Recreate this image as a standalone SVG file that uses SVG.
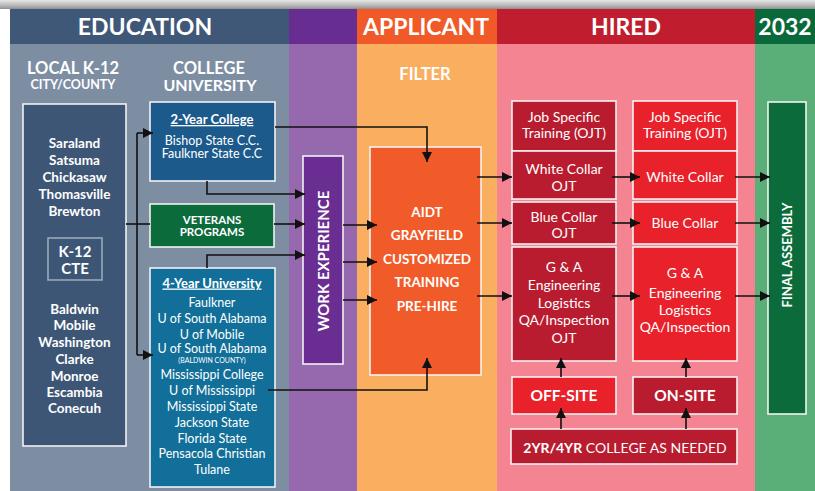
<svg xmlns="http://www.w3.org/2000/svg" width="815" height="491" viewBox="0 0 815 491">
<defs>
<linearGradient id="topg" x1="0" y1="0" x2="0" y2="1">
<stop offset="0" stop-color="#e6e6e6"/>
<stop offset="0.6" stop-color="#b8b8b8"/>
<stop offset="1" stop-color="#8e8e8e"/>
</linearGradient>
<marker id="ah" markerUnits="userSpaceOnUse" markerWidth="10" markerHeight="10" refX="10" refY="5" orient="auto" viewBox="0 0 10 10">
<path d="M0,0 L10,5 L0,10 Z" fill="#111"/>
</marker>
</defs>
<style>
text{font-family:Lato,"Liberation Sans",Arial,sans-serif;fill:#fff;text-anchor:middle}
.hd{font-size:23px;font-weight:700}
.sh{font-size:16.5px;font-weight:700}
.bx{stroke:#f2f2f2;stroke-width:1.6}
.k{font-size:13.5px;font-weight:700}
.c{font-size:12.5px}
.cu{font-size:13px;font-weight:700;text-decoration:underline}
.h{font-size:14px}
.o{font-size:13.5px;font-weight:700}
.lbl{font-size:15.5px;font-weight:700}
.con{fill:none;stroke:#111;stroke-width:1.6;marker-end:url(#ah)}
.ln{fill:none;stroke:#111;stroke-width:1.6}
</style>
<rect x="0" y="0" width="815" height="491" fill="#ffffff"/>
<rect x="0" y="0" width="815" height="9" fill="url(#topg)"/>
<g id="columns">
<rect x="10" y="44" width="279" height="447" fill="#7d8ea3"/>
<rect x="289" y="44" width="68" height="447" fill="#9669af"/>
<rect x="357" y="44" width="140" height="447" fill="#f9ae60"/>
<rect x="497" y="44" width="258" height="447" fill="#f48492"/>
<rect x="755" y="44" width="60" height="447" fill="#5aaf78"/>
<rect x="10" y="9" width="279" height="35" fill="#405878"/>
<rect x="289" y="9" width="68" height="35" fill="#682d91"/>
<rect x="357" y="9" width="140" height="35" fill="#f05a28"/>
<rect x="497" y="9" width="258" height="35" fill="#c01e2e"/>
<rect x="755" y="9" width="60" height="35" fill="#0a693a"/>
<text class="hd" x="145" y="35">EDUCATION</text>
<text class="hd" x="426" y="35">APPLICANT</text>
<text class="hd" x="626" y="35">HIRED</text>
<text class="hd" x="785" y="35">2032</text>
<text class="sh" x="73" y="74">LOCAL K-12</text>
<text x="73" y="88.5" style="font-size:12.5px;font-weight:700">CITY/COUNTY</text>
<text class="sh" x="209" y="73.5">COLLEGE</text>
<text class="sh" x="210" y="91" style="font-size:16px">UNIVERSITY</text>
<text class="sh" x="425" y="80">FILTER</text>
</g>
<g id="k12">
<rect class="bx" x="23" y="104" width="103" height="342" fill="#3e5676"/>
<text class="k" x="74.5" y="148">Saraland</text>
<text class="k" x="74.5" y="165">Satsuma</text>
<text class="k" x="74.5" y="182">Chickasaw</text>
<text class="k" x="74.5" y="199">Thomasville</text>
<text class="k" x="74.5" y="216">Brewton</text>
<text class="k" x="74.5" y="314">Baldwin</text>
<text class="k" x="74.5" y="330">Mobile</text>
<text class="k" x="74.5" y="347">Washington</text>
<text class="k" x="74.5" y="364">Clarke</text>
<text class="k" x="74.5" y="381">Monroe</text>
<text class="k" x="74.5" y="397">Escambia</text>
<text class="k" x="74.5" y="413">Conecuh</text>
</g>
<g id="k12cte">
<rect x="48" y="238" width="54" height="42" fill="#3e5676" stroke="#9aa8b8" stroke-width="1.6"/>
<text x="75" y="257" style="font-size:15px;font-weight:700">K-12</text>
<text x="75" y="274" style="font-size:15px;font-weight:700">CTE</text>
</g>
<g id="college2">
<rect class="bx" x="150" y="102" width="125" height="79" fill="#1c5a8c"/>
<text class="cu" x="212" y="124">2-Year College</text>
<text class="c" x="212" y="145">Bishop State C.C.</text>
<text class="c" x="212" y="158">Faulkner State C.C</text>
</g>
<g id="veterans">
<rect class="bx" x="150" y="204" width="124" height="43" fill="#0c6b3b"/>
<text x="212" y="224" style="font-size:11.5px;font-weight:700">VETERANS</text>
<text x="212" y="236" style="font-size:11.5px;font-weight:700">PROGRAMS</text>
</g>
<g id="university4">
<rect class="bx" x="150" y="268" width="125" height="219" fill="#126f99"/>
<text class="cu" x="212" y="287.5">4-Year University</text>
<text class="c" x="212" y="306.5">Faulkner</text>
<text class="c" x="212" y="322.5">U of South Alabama</text>
<text class="c" x="212" y="338.5">U of Mobile</text>
<text class="c" x="212" y="352.5">U of South Alabama</text>
<text x="212" y="363" style="font-size:7px">(BALDWIN COUNTY)</text>
<text class="c" x="212" y="378.5">Mississippi College</text>
<text class="c" x="212" y="394.5">U of Mississippi</text>
<text class="c" x="212" y="410.5">Mississippi State</text>
<text class="c" x="212" y="426.5">Jackson State</text>
<text class="c" x="212" y="442.5">Florida State</text>
<text class="c" x="212" y="457.5">Pensacola Christian</text>
<text class="c" x="212" y="473.5">Tulane</text>
</g>
<g id="workexp">
<rect class="bx" x="303" y="156" width="40" height="208" fill="#6a2d91"/>
<text transform="translate(328.5,261) rotate(-90)" style="font-size:15px;font-weight:700">WORK EXPERIENCE</text>
</g>
<g id="aidt">
<rect class="bx" x="370" y="147" width="111" height="228" fill="#f15a29"/>
<text class="o" x="427" y="217">AIDT</text>
<text class="o" x="427" y="240">GRAYFIELD</text>
<text class="o" x="427" y="264">CUSTOMIZED</text>
<text class="o" x="427" y="287">TRAINING</text>
<text class="o" x="427" y="311">PRE-HIRE</text>
</g>
<g id="hired-left">
<rect class="bx" x="512" y="101" width="104" height="50" fill="#b91c2e"/>
<text class="h" x="564" y="122">Job Specific</text>
<text class="h" x="564" y="138">Training (OJT)</text>
<rect class="bx" x="512" y="151" width="104" height="48" fill="#b91c2e"/>
<text class="h" x="564" y="174">White Collar</text>
<text class="h" x="564" y="190.5">OJT</text>
<rect class="bx" x="512" y="202" width="104" height="42" fill="#b91c2e"/>
<text class="h" x="564" y="221.5">Blue Collar</text>
<text class="h" x="564" y="238">OJT</text>
<rect class="bx" x="512" y="247" width="104" height="114" fill="#b91c2e"/>
<text class="h" x="564" y="272">G &amp; A</text>
<text class="h" x="564" y="290">Engineering</text>
<text class="h" x="564" y="308">Logistics</text>
<text class="h" x="564" y="325">QA/Inspection</text>
<text class="h" x="564" y="343">OJT</text>
</g>
<g id="hired-right">
<rect class="bx" x="633" y="101" width="104" height="50" fill="#e8212a"/>
<text class="h" x="685" y="122">Job Specific</text>
<text class="h" x="685" y="138">Training (OJT)</text>
<rect class="bx" x="633" y="151" width="104" height="48" fill="#e8212a"/>
<text class="h" x="685" y="182">White Collar</text>
<rect class="bx" x="633" y="202" width="104" height="42" fill="#e8212a"/>
<text class="h" x="685" y="228">Blue Collar</text>
<rect class="bx" x="633" y="247" width="104" height="114" fill="#e8212a"/>
<text class="h" x="685" y="278">G &amp; A</text>
<text class="h" x="685" y="298">Engineering</text>
<text class="h" x="685" y="315">Logistics</text>
<text class="h" x="685" y="332">QA/Inspection</text>
</g>
<g id="offsite">
<rect class="bx" x="512" y="377" width="104" height="37" fill="#e8212a"/>
<text class="lbl" x="564" y="401">OFF-SITE</text>
</g>
<g id="onsite">
<rect class="bx" x="633" y="377" width="104" height="37" fill="#b91c2e"/>
<text class="lbl" x="685" y="401">ON-SITE</text>
</g>
<g id="college-as-needed">
<rect class="bx" x="511" y="429" width="226" height="35" fill="#b91c2e"/>
<text x="625" y="453" style="font-size:14px"><tspan font-weight="700">2YR/4YR</tspan> COLLEGE AS NEEDED</text>
</g>
<g id="final">
<rect class="bx" x="768" y="102" width="38" height="312" fill="#0b6b3a"/>
<text transform="translate(792,255) rotate(-90)" style="font-size:13px;font-weight:700">FINAL ASSEMBLY</text>
</g>
<g id="connectors">
<path class="ln" d="M126,224 H150"/>
<path class="ln" d="M137,133 V355"/>
<path class="con" d="M137,133 H153"/>
<path class="con" d="M137,355 H153"/>
<path class="con" d="M275,127 H427 V162"/>
<path class="con" d="M207,181 V194 H305"/>
<path class="con" d="M274,224 H305"/>
<path class="con" d="M207,268 V255 H305"/>
<path class="con" d="M343,225 H377"/>
<path class="con" d="M343,262 H377"/>
<path class="con" d="M343,300 H377"/>
<path class="con" d="M268,390 H427 V358"/>
<path class="con" d="M477,177 H512"/>
<path class="con" d="M477,223 H512"/>
<path class="con" d="M477,296 H512"/>
<path class="con" d="M612,177 H640"/>
<path class="con" d="M612,223 H640"/>
<path class="con" d="M612,296 H640"/>
<path class="con" d="M735,177 H770"/>
<path class="con" d="M735,223 H770"/>
<path class="con" d="M735,296 H770"/>
<path class="con" d="M561,429 V408"/>
<path class="con" d="M561,377 V358"/>
<path class="con" d="M686,429 V408"/>
<path class="con" d="M686,377 V358"/>
</g>
</svg>
